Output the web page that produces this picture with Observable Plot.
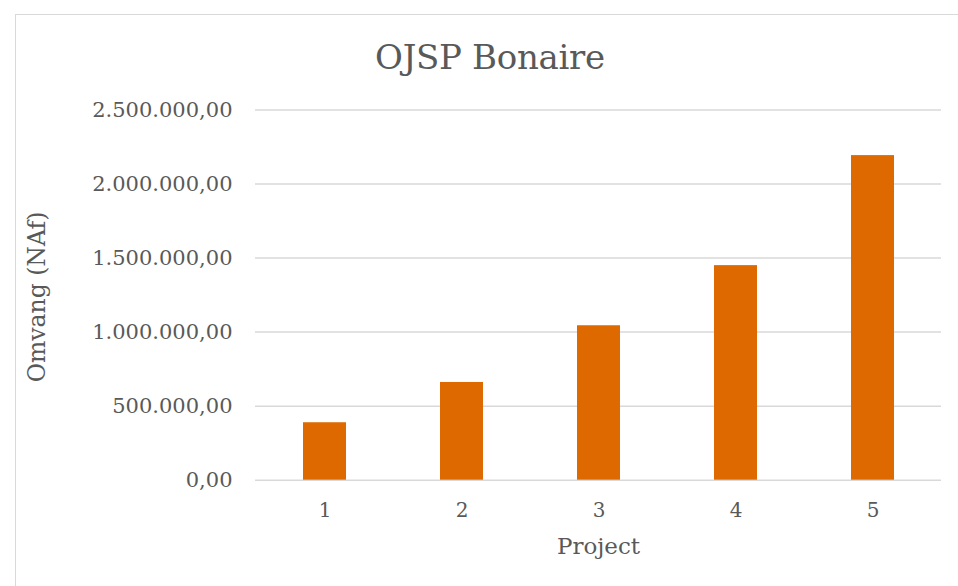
<!DOCTYPE html>
<html>
<head>
<meta charset="utf-8">
<script src="https://cdn.jsdelivr.net/npm/d3@7"></script>
<script src="https://cdn.jsdelivr.net/npm/@observablehq/plot@0.6"></script>
<style>
  html, body { margin: 0; padding: 0; background: #fff; }
  #wrap { position: relative; width: 958px; height: 586px; overflow: hidden; }
  #frame { position: absolute; left: 15px; top: 14px; width: 960px; height: 600px;
           border-top: 1.5px solid #d9d9d9; border-left: 1.5px solid #d9d9d9; box-sizing: border-box; }
  #title { position: absolute; left: 0; top: 37px; width: 980px; text-align: center;
           font-family: "DejaVu Serif", serif; font-size: 34px; color: #595959; letter-spacing: -0.3px; }
  #ylabel { position: absolute; left: 37px; top: 297px; transform: translate(-50%, -50%) rotate(-90deg);
           white-space: nowrap; font-family: "DejaVu Serif", serif; font-size: 23.5px; color: #595959; }
  #chart { position: absolute; left: 0; top: 0; }
</style>
</head>
<body>
<div id="wrap">
  <div id="frame"></div>
  <div id="chart"></div>
  <div id="title">OJSP Bonaire</div>
  <div id="ylabel"></div>
</div>
<script>
const projects = ["1", "2", "3", "4", "5"];
const omvang = [388000, 660000, 1043000, 1449000, 2192000];
const yTicks = [0, 500000, 1000000, 1500000, 2000000, 2500000];
const yLabel = "Omvang (NAf)";
const xLabel = "Project";

const data = projects.map((p, i) => ({project: p, value: omvang[i]}));
const nl = d3.formatLocale({decimal: ",", thousands: ".", grouping: [3], currency: ["", ""]});
const fmt = nl.format(",.2f");

document.getElementById("ylabel").textContent = yLabel;

const chart = Plot.plot({
  width: 958,
  height: 586,
  marginLeft: 255,
  marginRight: 17,
  marginTop: 109.5,
  marginBottom: 106.3,
  style: {fontFamily: "DejaVu Serif, serif", color: "#595959", background: "transparent"},
  x: {domain: projects, paddingInner: 0.687, paddingOuter: 0.3435, label: null},
  y: {domain: [0, 2500000], label: null},
  marks: [
    Plot.gridY(yTicks, {stroke: "#d9d9d9", strokeOpacity: 1, strokeWidth: 1.5}),
    Plot.barY(data, {x: "project", y: "value", fill: "#dd6900"}),
    Plot.axisY(yTicks, {tickSize: 0, tickPadding: 23, tickFormat: fmt, fontSize: 21, fill: "#595959"}),
    Plot.axisX({tickSize: 0, tickPadding: 23, fontSize: 20, fill: "#595959"}),
    Plot.text([xLabel], {frameAnchor: "bottom", dy: 74, fontSize: 23, fill: "#595959"})
  ]
});
document.getElementById("chart").appendChild(chart);
</script>
</body>
</html>
